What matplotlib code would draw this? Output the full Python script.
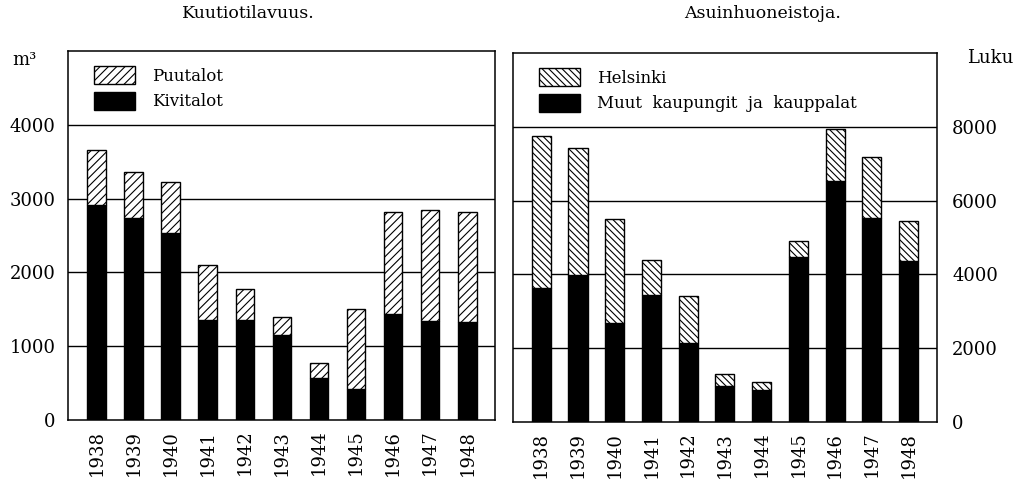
import matplotlib
matplotlib.use('Agg')
import matplotlib.pyplot as plt
import numpy as np

years = ['1938', '1939', '1940', '1941', '1942', '1943', '1944', '1945', '1946', '1947', '1948']

# Kuutiotilavuus (m3), stacked: stone houses at the bottom, wooden on top
kivitalot = [2920, 2740, 2530, 1350, 1350, 1150, 575, 415, 1440, 1340, 1335]
puutalot = [740, 620, 700, 750, 430, 240, 195, 1085, 1380, 1510, 1485]

# Asuinhuoneistoja (luku)
muut = [3620, 3980, 2670, 3440, 2130, 970, 860, 4480, 6540, 5540, 4370]
helsinki = [4130, 3440, 2840, 950, 1280, 340, 210, 430, 1400, 1640, 1090]

plt.rcParams['font.family'] = ['DejaVu Serif']
plt.rcParams['hatch.linewidth'] = 0.8

fig = plt.figure(figsize=(10.29, 4.97), dpi=100)
ax1 = fig.add_axes([0.0661, 0.155, 0.415, 0.742])
ax2 = fig.add_axes([0.4985, 0.151, 0.412, 0.742])

x = np.arange(len(years))


def style_axis(ax, ymax, step, right=False):
    ax.set_ylim(0, ymax)
    ax.set_xlim(-0.77, len(years) - 0.25)
    ticks = np.arange(0, ymax, step)
    ax.set_yticks(ticks)
    ax.set_yticklabels([str(t) for t in ticks], fontsize=13)
    for t in ticks[1:]:
        ax.axhline(t, color='black', lw=1.0, zorder=0)
    ax.set_xticks(x)
    ax.set_xticklabels(years, rotation=90, fontsize=13)
    ax.tick_params(axis='x', length=0, pad=7)
    if right:
        ax.yaxis.tick_right()
        ax.tick_params(axis='y', length=0, pad=11)
    else:
        ax.tick_params(axis='y', length=0, pad=9)
    for s in ax.spines.values():
        s.set_linewidth(1.1)


legend_kw = dict(loc='upper left', bbox_to_anchor=(0.025, 1.0), frameon=False,
                 fontsize=12, handlelength=2.5, handleheight=1.3, handletextpad=1.0,
                 labelspacing=0.4)

# left panel
ax1.bar(x, kivitalot, width=0.5, color='black', edgecolor='black', label='Kivitalot', zorder=2)
ax1.bar(x, puutalot, width=0.5, bottom=kivitalot, color='white', edgecolor='black',
        hatch='////', lw=1.0, label='Puutalot', zorder=2)
style_axis(ax1, 5000, 1000)
h, l = ax1.get_legend_handles_labels()
ax1.legend(h[::-1], l[::-1], **legend_kw)

# right panel
ax2.bar(x, muut, width=0.52, color='black', edgecolor='black',
        label='Muut  kaupungit  ja  kauppalat', zorder=2)
ax2.bar(x, helsinki, width=0.52, bottom=muut, color='white', edgecolor='black',
        hatch='\\\\\\\\\\', lw=1.0, label='Helsinki', zorder=2)
style_axis(ax2, 10000, 2000, right=True)
ax2.set_xlim(-0.77, 10.77)
h, l = ax2.get_legend_handles_labels()
ax2.legend(h[::-1], l[::-1], **legend_kw)

fig.text(248 / 1029, 1 - 14 / 497, 'Kuutiotilavuus.', ha='center', va='center', fontsize=12.5)
fig.text(763 / 1029, 1 - 14 / 497, 'Asuinhuoneistoja.', ha='center', va='center', fontsize=12.5)
fig.text(24 / 1029, 1 - 60 / 497, 'm³', ha='center', va='center', fontsize=13)
fig.text(990 / 1029, 1 - 58 / 497, 'Luku', ha='center', va='center', fontsize=13)

fig.savefig('out.png', dpi=100)
plt.close(fig)
